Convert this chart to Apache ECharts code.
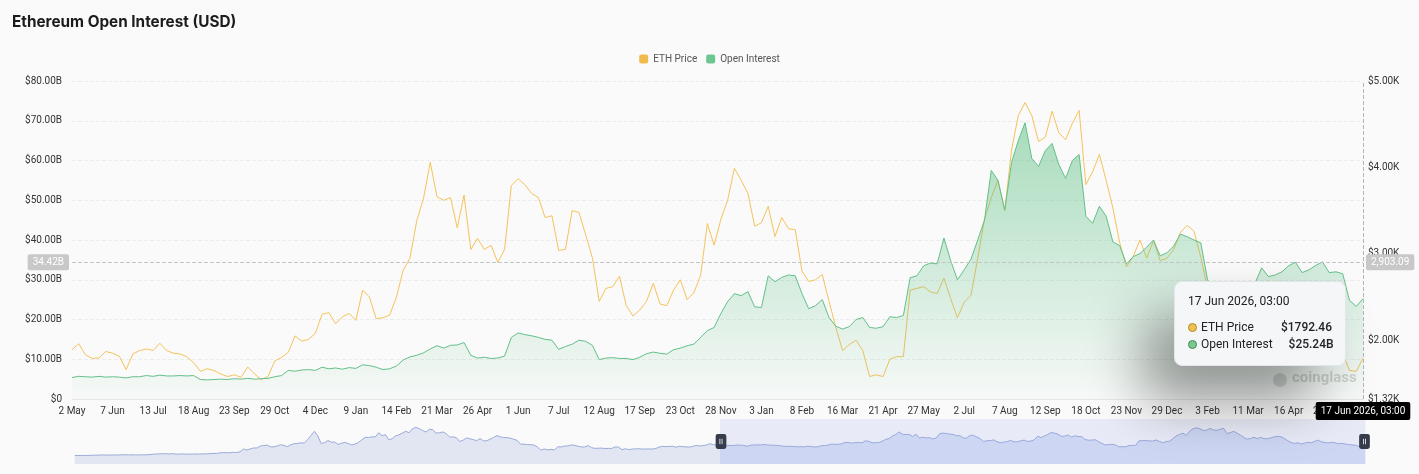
<!DOCTYPE html>
<html>
<head>
<meta charset="utf-8">
<script src="https://cdn.jsdelivr.net/npm/echarts@6/dist/echarts.min.js"></script>
<style>
  html, body { margin: 0; padding: 0; background: #fafafa; }
  #chart { width: 1419px; height: 474px; }
</style>
</head>
<body>
<div id="chart"></div>
<script>
// ---------- DATA ----------
// Category axis: one point every 6 days, starting 12 Mar 2020, plus the final 17 Jun 2026 point
const categoryStartUTC = Date.UTC(2020, 2, 12);
const categoryStepDays = 6;
const categoryStepCount = 382;
const lastCategory = '2026-06-17';

// ETH price before the visible window (only seen in the slider), 12 Mar 2020 .. 26 Apr 2023
const priceHistory = [
  130,115,135,130,143,158,171,185,215,205, 188,207,207,220,244,247,235,243,225,229,
  241,235,265,317,386,390,430,416,382,440, 337,377,384,355,346,351,380,369,393,396,
  436,475,472,568,615,591,589,655,626,737,
  1210,1040,1230,1390,1380,1720,1780,1850,1570,1570, 1730,1920,1820,1590,1920,2110,2140,2240,2210,2770,
  3490,4170,3380,2100,2280,2630,2350,2370,1970,2170, 2320,2130,1890,2030,2300,2720,3160,3140,3240,3230,
  3940,3420,3610,2760,2930,3390,3570,3870,4170,3930, 4600,4810,4630,4300,4040,4510,4440,3860,3940,4050,
  3770,3190,3240,3090,2460,2690,3060,2910,2780,2600, 2950,2570,2590,2860,3130,3450,3230,3120,3100,3010,
  2830,2640,2010,2020,1940,1940,1860,1530,1000,1220, 1070,1150,1040,1580,1550,1700,1730,1880,1830,1660,
  1550,1560,1780,1430,1320,1340,1360,1290,1310,1310, 1560,1530,1100,1250,1110,1190,1240,1260,1190,1210,
  1210,
  1210,1290,1550,1660,1610,1640,1670,1510,1690,1590, 1570,1530,1650,1800,1710,1790,1860,2100,1940,1870
];

// ETH price in the visible window, 2 May 2023 .. 17 Jun 2026 (USD)
const ethPrice = [
  1890,1960,1830,1790,1795,1870,1850,1815,1660,1840,
  1880,1900,1880,1965,1880,1850,1840,1810,1740,1640,
  1670,1650,1610,1580,1600,1570,1690,1610,1545,1580,
  1760,1800,1860,2050,1990,2010,2080,2300,2320,2190,
  2270,2310,2230,2580,2500,2250,2260,2290,2500,2810,
  2950,3380,3640,4060,3660,3620,3650,3300,3680,3050,
  3180,3050,3100,2900,3050,3790,3870,3800,3700,3650,
  3420,3440,3040,3050,3500,3480,3220,2950,2450,2600,
  2620,2740,2400,2280,2350,2450,2660,2420,2400,2580,
  2700,2470,2550,2750,3350,3100,3400,3620,3990,3850,
  3700,3320,3360,3550,3200,3420,3290,3280,2800,2680,
  2700,2760,2450,2150,1880,1950,2000,1880,1580,1600,
  1580,1780,1810,1810,2580,2600,2620,2560,2540,2720,
  2480,2260,2440,2520,2950,3400,3650,3850,3500,4200,
  4600,4750,4600,4300,4350,4650,4400,4320,4510,4660,
  3800,3950,4150,3850,3530,3130,2850,2970,3160,2950,
  3150,2920,2950,3050,3250,3330,3260,2960,2600,2300,
  2150,2250,2050,2200,2350,2250,2500,2690,2400,2300,
  2200,2350,2250,2100,2150,2050,1950,1900,1850,1650,
  1640,1792.46
];

// Open interest in the visible window (billions USD)
const openInterest = [
  5.4,5.7,5.6,5.5,5.7,5.5,5.6,5.5,5.3,5.6,
  5.6,5.9,5.7,6.0,5.8,5.8,5.9,5.8,5.9,4.9,
  4.8,4.9,5.0,4.9,5.1,5.0,5.2,5.0,5.1,5.2,
  5.6,5.9,7.2,7.0,7.3,7.4,7.2,8.0,7.6,7.8,
  7.5,7.9,7.7,8.6,8.4,8.0,7.4,7.6,8.3,9.8,
  10.6,11.0,11.6,12.6,13.4,12.8,13.5,13.6,14.2,11.0,
  10.3,10.5,10.2,10.3,10.8,15.5,16.6,16.2,15.9,15.5,
  15.0,14.8,12.5,13.2,13.8,14.8,14.5,13.5,9.9,10.3,
  10.4,10.2,10.2,9.9,10.5,11.4,11.8,11.5,11.3,12.4,
  12.8,13.4,13.8,15.5,17.2,18.0,21.5,24.5,26.5,26.0,
  27.0,23.2,23.0,31.0,29.5,30.6,31.2,31.0,26.5,22.7,
  23.5,25.0,20.5,18.3,17.6,18.2,20.0,20.5,18.0,17.8,
  18.2,20.7,20.5,21.0,30.5,31.0,33.5,34.2,34.0,40.5,
  34.8,30.0,32.5,35.2,40.0,45.0,57.5,55.0,47.5,59.5,
  65.0,69.5,60.5,58.5,62.5,64.3,59.0,55.5,60.0,61.5,
  46.0,44.2,48.5,46.0,39.5,38.6,34.0,35.8,36.6,38.2,
  40.0,36.0,36.8,38.5,41.5,40.8,40.0,39.3,30.0,27.5,
  26.8,28.0,27.2,26.5,27.8,29.0,33.0,30.8,31.2,32.0,
  33.5,34.4,31.8,32.5,33.6,34.5,31.8,32.0,31.5,24.8,
  23.3,25.24
];

const leftTicks = { min: 0, max: 80, interval: 10 };   // $B
const rightRange = { min: 1320, max: 5000 };           // $

// ---------- BUILD ----------
const categories = [];
for (let i = 0; i < categoryStepCount; i++) {
  categories.push(new Date(categoryStartUTC + i * categoryStepDays * 86400000).toISOString().slice(0, 10));
}
categories.push(lastCategory);
const hiddenCount = priceHistory.length;          // 191
const priceSeries = priceHistory.concat(ethPrice);
const oiSeries = new Array(hiddenCount).fill(null).concat(openInterest);

const MON = ['Jan','Feb','Mar','Apr','May','Jun','Jul','Aug','Sep','Oct','Nov','Dec'];
function shortDate(s) { const p = s.split('-'); return (+p[2]) + ' ' + MON[+p[1] - 1]; }
function fullDate(s) { const p = s.split('-'); return (+p[2]) + ' ' + MON[+p[1] - 1] + ' ' + p[0] + ', 03:00'; }

const FONT = 'Roboto, "Noto Sans", sans-serif';
const chart = echarts.init(document.getElementById('chart'), null, { renderer: 'canvas' });

const option = {
  animation: false,
  backgroundColor: '#fafafa',
  textStyle: { fontFamily: FONT },
  title: {
    text: 'Ethereum Open Interest (USD)',
    left: 7, top: 10,
    textStyle: { fontFamily: 'Inter, Roboto, sans-serif', fontSize: 15.3, fontWeight: 700, color: '#1c1c1c' }
  },
  legend: {
    top: 49, left: 'center',
    icon: 'roundRect', itemWidth: 9, itemHeight: 9, itemGap: 9,
    textStyle: { fontSize: 10, color: '#555', fontFamily: FONT },
    data: ['ETH Price', 'Open Interest']
  },
  grid: { left: 72, right: 56, top: 81, bottom: 75 },
  tooltip: {
    trigger: 'axis',
    alwaysShowContent: true,
    axisPointer: {
      type: 'cross',
      lineStyle: { color: '#b5b5b5', type: 'dashed', width: 1 },
      crossStyle: { color: '#c5c5c5', type: 'dashed', width: 1 }
    },
    position: function () { return [1174, 281]; },
    backgroundColor: '#f4f6f8',
    borderColor: '#e2e5e9',
    borderWidth: 1,
    padding: 0,
    extraCssText: 'box-shadow:-30px 35px 55px rgba(0,0,0,0.4);border-radius:8px;',
    formatter: function (params) {
      const cat = params[0].axisValue;
      let price = null, oi = null;
      params.forEach(p => { if (p.seriesName === 'ETH Price') price = p.value; else oi = p.value; });
      const row = (color, border, name, val) =>
        '<div style="display:flex;justify-content:space-between;align-items:center;height:17px;">' +
        '<span style="display:flex;align-items:center;"><span style="display:inline-block;width:7px;height:7px;border-radius:50%;background:' + color + ';border:1px solid ' + border + ';margin-right:4px;"></span>' + name + '</span>' +
        '<span style="margin-left:16px;font-weight:500;">' + val + '</span></div>';
      return '<div style="padding:11px 13px 12px 13px;width:144px;font-family:' + FONT.replace(/"/g, "'") + ';font-size:12px;color:#222;">' +
        '<div style="height:16px;line-height:16px;margin-bottom:10px;">' + fullDate(cat) + '</div>' +
        row('#f0c04e', '#b58a2a', 'ETH Price', '$' + Number(price).toFixed(2)) +
        row('#7cc98f', '#3f8e58', 'Open Interest', '$' + Number(oi).toFixed(2) + 'B') +
        '</div>';
    }
  },
  xAxis: {
    type: 'category',
    data: categories,
    boundaryGap: false,
    axisLine: { show: true, lineStyle: { color: '#e6e6e6' } },
    axisTick: { show: false },
    axisLabel: {
      color: '#333', fontSize: 10, margin: 7, fontFamily: FONT,
      interval: function (index) { return index >= hiddenCount && (index - hiddenCount) % 6 === 0; },
      formatter: function (v) { return shortDate(v); }
    },
    splitLine: { show: false },
    axisPointer: {
      label: {
        backgroundColor: '#000', color: '#fff', fontSize: 10, padding: [4, 5], borderRadius: 2,
        formatter: function (p) { return fullDate(p.value); }
      }
    }
  },
  yAxis: [
    {
      type: 'value', position: 'left',
      min: leftTicks.min, max: leftTicks.max, interval: leftTicks.interval,
      axisLine: { show: false }, axisTick: { show: false },
      axisLabel: {
        color: '#333', fontSize: 10, margin: 10, fontFamily: FONT,
        formatter: function (v) { return v === 0 ? '$0' : '$' + v.toFixed(2) + 'B'; }
      },
      splitLine: { lineStyle: { color: '#ececec', type: 'dashed' } },
      axisPointer: {
        label: {
          backgroundColor: '#c8c8c8', color: '#fff', fontSize: 10, padding: [3, 5], borderRadius: 2,
          formatter: function (p) { return Number(p.value).toFixed(2) + 'B'; }
        }
      }
    },
    {
      type: 'value', position: 'right',
      min: rightRange.min, max: rightRange.max,
      axisLine: { show: false }, axisTick: { show: false },
      axisLabel: {
        color: '#333', fontSize: 10, margin: 5, fontFamily: FONT,
        formatter: function (v) { return '$' + (v / 1000).toFixed(2) + 'K'; }
      },
      splitLine: { show: false },
      axisPointer: {
        label: {
          backgroundColor: '#c8c8c8', color: '#fff', fontSize: 10, padding: [3, 5], borderRadius: 2,
          formatter: function (p) {
            return Number(p.value).toLocaleString('en-US', { minimumFractionDigits: 2, maximumFractionDigits: 2 });
          }
        }
      }
    }
  ],
  dataZoom: [{
    type: 'slider',
    xAxisIndex: 0,
    startValue: hiddenCount,
    endValue: categories.length - 1,
    left: 72, right: 56, top: 419, height: 45,
    showDetail: false,
    brushSelect: false,
    moveHandleSize: 0,
    borderColor: 'transparent',
    backgroundColor: 'rgba(0,0,0,0)',
    fillerColor: 'rgba(140,160,235,0.16)',
    dataBackground: {
      lineStyle: { color: '#9aabd9', width: 1, opacity: 1 },
      areaStyle: { color: '#e1e6f2', opacity: 1 }
    },
    selectedDataBackground: {
      lineStyle: { color: '#9aabd9', width: 1, opacity: 1 },
      areaStyle: { color: '#d9e0f3', opacity: 1 }
    },
    handleIcon: 'path://M2,0 H8 A2,2 0 0 1 10,2 V12 A2,2 0 0 1 8,14 H2 A2,2 0 0 1 0,12 V2 A2,2 0 0 1 2,0 Z M3.6,4.5 V9.5 H4.4 V4.5 Z M5.6,4.5 V9.5 H6.4 V4.5 Z',
    handleSize: 15,
    handleStyle: { color: '#363c4a', borderColor: '#363c4a', borderWidth: 0 },
    emphasis: { handleStyle: { color: '#363c4a', borderColor: '#363c4a' } }
  }],
  graphic: [
    { type: 'circle', left: 1273, top: 373, shape: { r: 7 }, style: { fill: 'rgba(0,0,0,0.13)' }, z: 1 },
    { type: 'text', left: 1292, top: 371, style: { text: 'coinglass', fill: 'rgba(0,0,0,0.16)', font: 'bold 15px ' + FONT }, z: 1 }
  ],
  series: [
    {
      name: 'ETH Price',
      type: 'line',
      yAxisIndex: 1,
      data: priceSeries,
      showSymbol: false,
      symbol: 'none',
      lineStyle: { color: '#f5c35c', width: 1 },
      itemStyle: { color: '#f0bb4d' },
      emphasis: { disabled: true },
      z: 2
    },
    {
      name: 'Open Interest',
      type: 'line',
      yAxisIndex: 0,
      data: oiSeries,
      showSymbol: false,
      symbol: 'none',
      lineStyle: { color: '#63c089', width: 1 },
      itemStyle: { color: '#6cc690' },
      areaStyle: {
        color: new echarts.graphic.LinearGradient(0, 0, 0, 1, [
          { offset: 0, color: 'rgba(88,190,128,0.72)' },
          { offset: 1, color: 'rgba(88,190,128,0.03)' }
        ])
      },
      emphasis: { disabled: true },
      z: 3
    }
  ]
};

chart.setOption(option);
chart.dispatchAction({ type: 'showTip', x: 1362, y: 262.2 });
</script>
</body>
</html>
